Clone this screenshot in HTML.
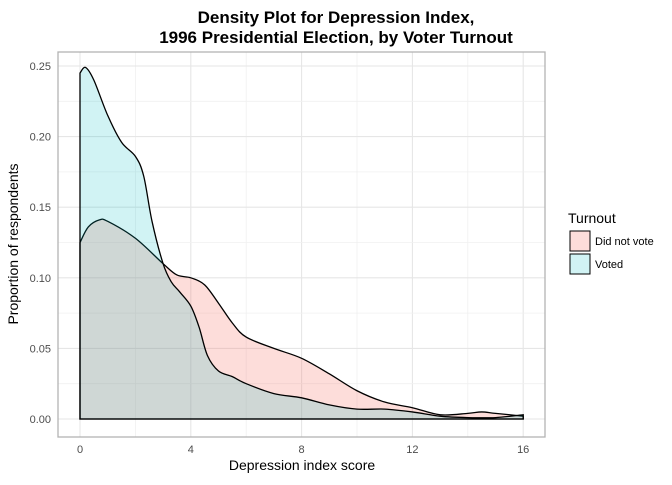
<!DOCTYPE html>
<html><head><meta charset="utf-8"><style>
body{margin:0;background:#fff;font-family:"Liberation Sans",sans-serif}
</style></head><body>
<svg width="672" height="480" xmlns="http://www.w3.org/2000/svg" font-family="Liberation Sans, sans-serif">
<text x="336" y="23" text-anchor="middle" font-size="17" font-weight="bold">Density Plot for Depression Index,</text>
<text x="336" y="43" text-anchor="middle" font-size="17" font-weight="bold">1996 Presidential Election, by Voter Turnout</text>
<g id="grid"></g>
<g id="marks"></g>
<rect x="58" y="52" width="487" height="385" fill="none" stroke="#b3b3b3" stroke-width="1.3"/>
<g id="axes"></g>
<text x="302" y="470" text-anchor="middle" font-size="14">Depression index score</text>
<text transform="translate(18,244) rotate(-90)" text-anchor="middle" font-size="14">Proportion of respondents</text>
<g>
<text x="568" y="223" font-size="14">Turnout</text>
<rect x="570" y="231" width="20" height="20" fill="#F8766D" fill-opacity="0.25" stroke="#000" stroke-width="1"/>
<text x="595" y="245" font-size="11">Did not vote</text>
<rect x="570" y="254" width="20" height="20" fill="#00BFC4" fill-opacity="0.18" stroke="#000" stroke-width="1"/>
<text x="595" y="268" font-size="11">Voted</text>
</g>
</svg>
<script>
const votedX=[0,0.2,0.5,1,1.5,2,2.3,2.6,3,3.3,3.6,4,4.3,4.6,5,5.5,6,7,8,9,10,11,12,13,14,15,16];
const votedY=[0.245,0.249,0.24,0.215,0.196,0.186,0.172,0.14,0.11,0.097,0.09,0.08,0.065,0.045,0.034,0.03,0.025,0.018,0.015,0.01,0.007,0.007,0.005,0.002,0.001,0.001,0.003];
const notX=[0,0.3,0.7,1,2,3,3.5,4,4.5,5,5.5,6,7,8,9,10,11,12,13,14,14.5,15,16];
const notY=[0.125,0.136,0.141,0.14,0.128,0.11,0.102,0.1,0.095,0.082,0.068,0.058,0.05,0.043,0.032,0.02,0.012,0.008,0.003,0.004,0.005,0.004,0.002];
const xTicks=[0,4,8,12,16];
const yTicks=[0,0.05,0.10,0.15,0.20,0.25];
const yTickLabels=["0.00","0.05","0.10","0.15","0.20","0.25"];
const X=v=>80+v*27.7, Y=v=>419-v*1412;
const NS="http://www.w3.org/2000/svg";
function mk(t,a,p){const e=document.createElementNS(NS,t);for(const k in a)e.setAttribute(k,a[k]);p.appendChild(e);return e;}
const grid=document.getElementById('grid'),axes=document.getElementById('axes'),marks=document.getElementById('marks');
for(let i=0;i<xTicks.length;i++){
 const x=X(xTicks[i]);
 const l=mk('line',{x1:x,x2:x,y1:52,y2:437,stroke:'#e6e6e6','stroke-width':1.1},grid);
 
 
 if(i<xTicks.length-1){const xm=X((xTicks[i]+xTicks[i+1])/2);const m=mk('line',{x1:xm,x2:xm,y1:52,y2:437,stroke:'#f0f0f0','stroke-width':0.8},grid);
 
 }
 const t=mk('text',{x:x,y:453,'text-anchor':'middle','font-size':11,fill:'#4d4d4d'},axes);t.textContent=xTicks[i];
 
 
}
for(let i=0;i<yTicks.length;i++){
 const y=Y(yTicks[i]);
 const l=mk('line',{x1:58,x2:545,y1:y,y2:y,stroke:'#e6e6e6','stroke-width':1.1},grid);
 
 
 if(i<yTicks.length-1){const ym=Y((yTicks[i]+yTicks[i+1])/2);const m=mk('line',{x1:58,x2:545,y1:ym,y2:ym,stroke:'#f0f0f0','stroke-width':0.8},grid);
 
 }
 const t=mk('text',{x:51,y:y+4,'text-anchor':'end','font-size':11,fill:'#4d4d4d'},axes);t.textContent=yTickLabels[i];
 
 
}
function curve(xs,ys){
 const p=xs.map((v,i)=>[X(v),Y(ys[i])]);
 let d='M'+X(xs[0])+','+Y(0)+' L'+p[0][0]+','+p[0][1];
 for(let i=0;i<p.length-1;i++){
  const p0=p[Math.max(0,i-1)],p1=p[i],p2=p[i+1],p3=p[Math.min(p.length-1,i+2)];
  const c1=[p1[0]+(p2[0]-p0[0])/6,p1[1]+(p2[1]-p0[1])/6],c2=[p2[0]-(p3[0]-p1[0])/6,p2[1]-(p3[1]-p1[1])/6];
  d+=` C${c1[0]},${c1[1]} ${c2[0]},${c2[1]} ${p2[0]},${p2[1]}`;
 }
 return d+' L'+X(xs[xs.length-1])+','+Y(0)+' Z';
}
const a1=mk('path',{d:curve(notX,notY),fill:'#F8766D','fill-opacity':0.25,stroke:'#000','stroke-width':1.3},marks);


const a2=mk('path',{d:curve(votedX,votedY),fill:'#00BFC4','fill-opacity':0.18,stroke:'#000','stroke-width':1.3},marks);


</script>
</body></html>
